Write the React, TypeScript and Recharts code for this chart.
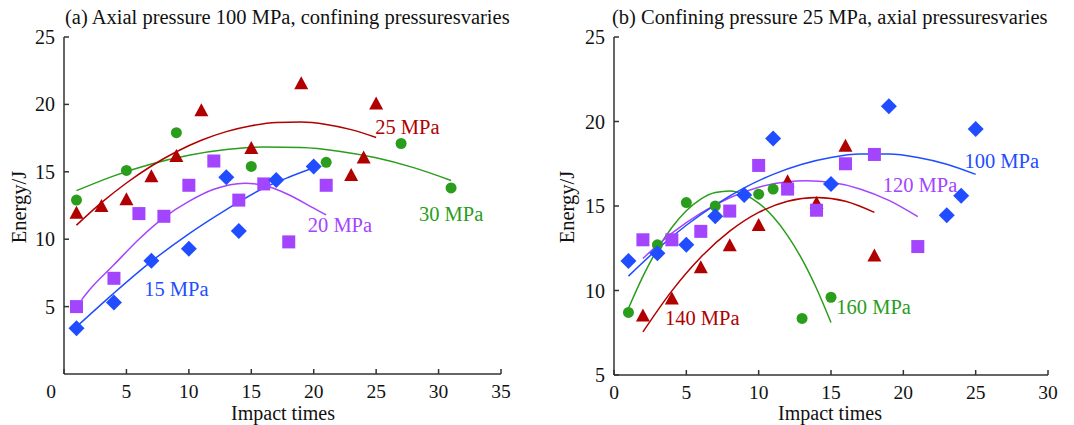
import React from "react";
import { ComposedChart, Scatter, Line, XAxis, YAxis, ReferenceDot } from "recharts";

const FONT = '"Liberation Serif", "Times New Roman", serif';
const RED = "#b00000";
const GREEN = "#2a9d1c";
const PURPLE = "#a344ff";
const BLUE = "#1f4dff";
const AXIS = "#333";

// ---------- Panel (a): axial pressure 100 MPa, confining pressure varies ----------
const a15Times = [1, 4, 7, 10, 13, 14, 17, 20];
const a15Energy = [3.4, 5.3, 8.4, 9.3, 14.6, 10.6, 14.4, 15.4];
const a20Times = [1, 4, 6, 8, 10, 12, 14, 16, 18, 21];
const a20Energy = [5.0, 7.1, 11.9, 11.7, 14.0, 15.8, 12.9, 14.1, 9.8, 14.0];
const a25Times = [1, 3, 5, 7, 9, 11, 15, 19, 23, 24, 25];
const a25Energy = [12.0, 12.5, 13.0, 14.7, 16.2, 19.6, 16.8, 21.6, 14.8, 16.1, 20.1];
const a30Times = [1, 5, 9, 15, 21, 27, 31];
const a30Energy = [12.9, 15.1, 17.9, 15.4, 15.7, 17.1, 13.8];

const aFit15Times = [1, 4, 7, 10, 13, 16, 18, 20];
const aFit15Energy = [3.5, 6.0, 8.35, 10.4, 12.2, 13.8, 14.6, 15.3];
const aFit20Times = [1.4, 2, 4, 6, 8, 10, 12, 14.5, 16, 18, 20, 21];
const aFit20Energy = [5.5, 6.2, 8.1, 10.0, 11.6, 12.8, 13.7, 14.15, 14.0, 13.3, 12.3, 11.8];
const aFit25Times = [1, 3, 5, 7, 9, 11, 13, 15, 17, 19, 21, 23, 25];
const aFit25Energy = [11.04, 12.71, 14.17, 15.43, 16.49, 17.34, 17.98, 18.42, 18.66, 18.69, 18.51, 18.13, 17.55];
const aFit30Times = [1, 4, 7, 10, 13, 16, 19, 22, 25, 28, 31];
const aFit30Energy = [13.6, 14.7, 15.58, 16.23, 16.65, 16.84, 16.8, 16.53, 16.04, 15.31, 14.36];

const aXTicks = [0, 5, 10, 15, 20, 25, 30, 35];
const aYTicks = [5, 10, 15, 20, 25];

// ---------- Panel (b): confining pressure 25 MPa, axial pressure varies ----------
const b100Times = [1, 3, 5, 7, 9, 11, 15, 19, 23, 24, 25];
const b100Energy = [11.75, 12.2, 12.7, 14.4, 15.65, 19.0, 16.3, 20.9, 14.45, 15.6, 19.55];
const b120Times = [2, 4, 6, 8, 10, 12, 14, 16, 18, 21];
const b120Energy = [13.0, 13.0, 13.5, 14.7, 17.4, 16.0, 14.75, 17.5, 18.05, 12.6];
const b140Times = [2, 4, 6, 8, 10, 12, 14, 16, 18];
const b140Energy = [8.55, 9.55, 11.4, 12.7, 13.9, 16.5, 15.2, 18.6, 12.1];
const b160Times = [1, 3, 5, 7, 10, 11, 13, 15];
const b160Energy = [8.7, 12.7, 15.2, 15.0, 15.7, 16.0, 8.35, 9.6];

const bFit100Times = [1, 3, 5, 7, 9, 11, 13, 15, 17, 19, 21, 23, 25];
const bFit100Energy = [10.85, 12.45, 13.86, 15.06, 16.07, 16.87, 17.47, 17.87, 18.07, 18.07, 17.87, 17.47, 16.87];
const bFit120Times = [2, 4, 6, 8, 10, 12, 13.3, 15, 17, 19, 21];
const bFit120Energy = [11.9, 13.39, 14.58, 15.49, 16.11, 16.44, 16.5, 16.4, 16.01, 15.33, 14.37];
const bFit140Times = [2, 4, 6, 8, 10, 12, 14, 16, 18];
const bFit140Energy = [7.55, 9.98, 11.97, 13.51, 14.62, 15.28, 15.5, 15.28, 14.62];
const bFit160Times = [1, 2, 3, 4, 5, 6, 7, 8, 9, 10, 11, 12, 13, 14, 15];
const bFit160Energy = [8.95, 10.84, 12.44, 13.73, 14.72, 15.41, 15.8, 15.89, 15.68, 15.17, 14.36, 13.25, 11.84, 10.12, 8.11];

const bXTicks = [0, 5, 10, 15, 20, 25, 30];
const bYTicks = [5, 10, 15, 20, 25];

const zip = (xs: number[], ys: number[]) => xs.map((x, i) => ({ x, y: ys[i] }));

// ---------- marker shapes ----------
const Diamond = (color: string) => (p: any) => {
  const { cx, cy } = p;
  const h = 8;
  return <path d={`M${cx},${cy - h}L${cx + h},${cy}L${cx},${cy + h}L${cx - h},${cy}Z`} fill={color} />;
};
const Square = (color: string) => (p: any) => {
  const { cx, cy } = p;
  const s = 13;
  return <rect x={cx - s / 2} y={cy - s / 2} width={s} height={s} fill={color} />;
};
const Triangle = (color: string) => (p: any) => {
  const { cx, cy } = p;
  const w = 14;
  const h = 13;
  return <path d={`M${cx},${cy - h / 2}L${cx + w / 2},${cy + h / 2}L${cx - w / 2},${cy + h / 2}Z`} fill={color} />;
};
const Circle = (color: string) => (p: any) => {
  const { cx, cy } = p;
  return <circle cx={cx} cy={cy} r={5.5} fill={color} />;
};

const XTick = (shiftZero: boolean) => (p: any) => {
  const { x, y, payload } = p;
  const dx = shiftZero && payload.value === 0 ? -13 : 0;
  return (
    <g>
      <line x1={x} y1={y} x2={x} y2={y - 5} stroke={AXIS} strokeWidth={1.5} />
      <text x={x + dx} y={y + 23.5} textAnchor="middle" fontFamily={FONT} fontSize={19.5} fill="#111">
        {payload.value}
      </text>
    </g>
  );
};
const YTick = (p: any) => {
  const { x, y, payload } = p;
  return (
    <g>
      <line x1={x} y1={y} x2={x + 5} y2={y} stroke={AXIS} strokeWidth={1.5} />
      <text x={x - 9} y={y + 7} textAnchor="end" fontFamily={FONT} fontSize={20} fill="#111">
        {payload.value}
      </text>
    </g>
  );
};

const CurveLabel = (text: string, color: string) => (p: any) => (
  <text x={p.cx} y={p.cy + 7} textAnchor="middle" fontFamily={FONT} fontSize={20.5} fill={color}>
    {text}
  </text>
);

const lineProps = {
  type: "monotone" as const,
  dataKey: "y",
  dot: false,
  strokeWidth: 1.5,
  isAnimationActive: false,
  activeDot: false,
};

export default function App() {
  return (
    <div style={{ position: "absolute", left: 0, top: 0, width: 1074, height: 425, background: "#fff", overflow: "hidden" }}>
      <div style={{ position: "absolute", left: 0, top: 0 }}>
        <ComposedChart width={540} height={425} margin={{ top: 37, right: 39, bottom: 50, left: 63 }}>
          <XAxis
            type="number"
            dataKey="x"
            domain={[0, 35]}
            ticks={aXTicks}
            height={1}
            tickSize={0}
            tickMargin={0}
            tickLine={false}
            axisLine={{ stroke: AXIS, strokeWidth: 1.5 }}
            tick={XTick(true)}
            interval={0}
            allowDataOverflow
          />
          <YAxis
            type="number"
            dataKey="y"
            domain={[0, 25]}
            ticks={aYTicks}
            width={1}
            tickSize={0}
            tickMargin={0}
            tickLine={false}
            axisLine={{ stroke: AXIS, strokeWidth: 1.5 }}
            tick={YTick}
            interval={0}
            allowDataOverflow
          />
          <Scatter data={zip(a30Times, a30Energy)} shape={Circle(GREEN)} isAnimationActive={false} />
          <Scatter data={zip(a25Times, a25Energy)} shape={Triangle(RED)} isAnimationActive={false} />
          <Scatter data={zip(a20Times, a20Energy)} shape={Square(PURPLE)} isAnimationActive={false} />
          <Scatter data={zip(a15Times, a15Energy)} shape={Diamond(BLUE)} isAnimationActive={false} />
          <Line {...lineProps} data={zip(aFit30Times, aFit30Energy)} stroke={GREEN} />
          <Line {...lineProps} data={zip(aFit25Times, aFit25Energy)} stroke={RED} />
          <Line {...lineProps} data={zip(aFit20Times, aFit20Energy)} stroke={PURPLE} />
          <Line {...lineProps} data={zip(aFit15Times, aFit15Energy)} stroke={BLUE} />
          <ReferenceDot x={27.5} y={18.3} r={0} shape={CurveLabel("25 MPa", RED)} />
          <ReferenceDot x={31.0} y={11.9} r={0} shape={CurveLabel("30 MPa", GREEN)} />
          <ReferenceDot x={22.1} y={11.05} r={0} shape={CurveLabel("20 MPa", PURPLE)} />
          <ReferenceDot x={9.0} y={6.3} r={0} shape={CurveLabel("15 MPa", BLUE)} />
        </ComposedChart>
      </div>
      <div style={{ position: "absolute", left: 540, top: 0 }}>
        <ComposedChart width={534} height={425} margin={{ top: 37, right: 26, bottom: 49, left: 73 }}>
          <XAxis
            type="number"
            dataKey="x"
            domain={[0, 30]}
            ticks={bXTicks}
            height={1}
            tickSize={0}
            tickMargin={0}
            tickLine={false}
            axisLine={{ stroke: AXIS, strokeWidth: 1.5 }}
            tick={XTick(false)}
            interval={0}
            allowDataOverflow
          />
          <YAxis
            type="number"
            dataKey="y"
            domain={[5, 25]}
            ticks={bYTicks}
            width={1}
            tickSize={0}
            tickMargin={0}
            tickLine={false}
            axisLine={{ stroke: AXIS, strokeWidth: 1.5 }}
            tick={YTick}
            interval={0}
            allowDataOverflow
          />
          <Scatter data={zip(b160Times, b160Energy)} shape={Circle(GREEN)} isAnimationActive={false} />
          <Scatter data={zip(b140Times, b140Energy)} shape={Triangle(RED)} isAnimationActive={false} />
          <Scatter data={zip(b120Times, b120Energy)} shape={Square(PURPLE)} isAnimationActive={false} />
          <Scatter data={zip(b100Times, b100Energy)} shape={Diamond(BLUE)} isAnimationActive={false} />
          <Line {...lineProps} data={zip(bFit160Times, bFit160Energy)} stroke={GREEN} />
          <Line {...lineProps} data={zip(bFit140Times, bFit140Energy)} stroke={RED} />
          <Line {...lineProps} data={zip(bFit120Times, bFit120Energy)} stroke={PURPLE} />
          <Line {...lineProps} data={zip(bFit100Times, bFit100Energy)} stroke={BLUE} />
          <ReferenceDot x={26.8} y={17.66} r={0} shape={CurveLabel("100 MPa", BLUE)} />
          <ReferenceDot x={21.15} y={16.24} r={0} shape={CurveLabel("120 MPa", PURPLE)} />
          <ReferenceDot x={6.1} y={8.37} r={0} shape={CurveLabel("140 MPa", RED)} />
          <ReferenceDot x={17.95} y={9.02} r={0} shape={CurveLabel("160 MPa", GREEN)} />
        </ComposedChart>
      </div>
      <svg width={1074} height={425} style={{ position: "absolute", left: 0, top: 0, pointerEvents: "none" }}>
        <text x={65} y={24} fontFamily={FONT} fontSize={20.5} fill="#111">
          (a) Axial pressure 100 MPa, confining pressuresvaries
        </text>
        <text x={612} y={24} fontFamily={FONT} fontSize={20.5} fill="#111">
          (b) Confining pressure 25 MPa, axial pressuresvaries
        </text>
        <text x={283} y={420} textAnchor="middle" fontFamily={FONT} fontSize={20} fill="#111">
          Impact times
        </text>
        <text x={830} y={420} textAnchor="middle" fontFamily={FONT} fontSize={20} fill="#111">
          Impact times
        </text>
        <text transform="translate(26,207) rotate(-90)" textAnchor="middle" fontFamily={FONT} fontSize={20.5} fill="#111">
          Energy/J
        </text>
        <text transform="translate(574,207) rotate(-90)" textAnchor="middle" fontFamily={FONT} fontSize={20.5} fill="#111">
          Energy/J
        </text>
      </svg>
    </div>
  );
}
